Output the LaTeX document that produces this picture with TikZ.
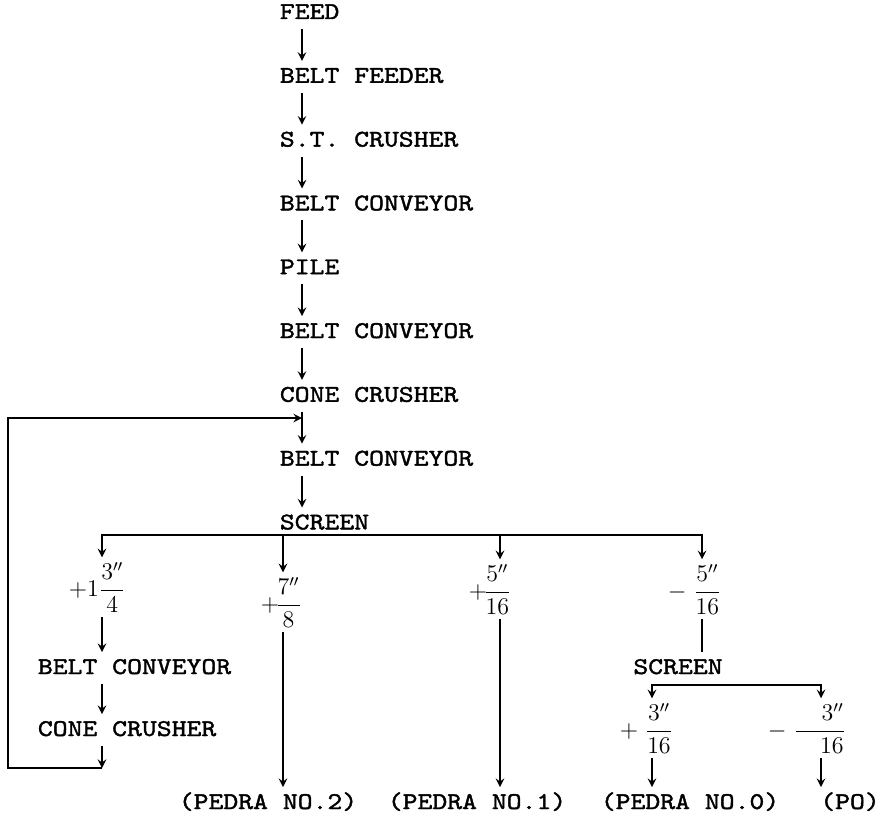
\documentclass[tikz,border=0pt]{standalone}
\usepackage{amsmath}
\usepackage{fontspec}
\setmainfont{lmmono10-regular.otf}[FakeStretch=1.18, FakeBold=1.6]
\usetikzlibrary{arrows,positioning}

\begin{document}
\begin{tikzpicture}[
    x=0.5pt, y=-0.5pt,
    font=\fontsize{12}{14}\selectfont,
    line width=0.9pt, >=stealth,
    unit/.style={inner sep=2pt, text height=8.5pt, text depth=2.5pt},
    frac/.style={inner sep=2pt}
]
\useasboundingbox (0,0) rectangle (887,824);

% columns of the arrows
\coordinate (mc) at (302,0);
\coordinate (c1) at (102,0);
\coordinate (c2) at (283,0);
\coordinate (c3) at (500,0);
\coordinate (c4) at (702,0);
\coordinate (c5) at (652,0);
\coordinate (c6) at (821,0);
\coordinate (split) at (0,535);
\coordinate (split2) at (0,685);
\coordinate (back) at (8,768);
\coordinate (join) at (302,418);

% main line
\node[unit, anchor=west] (feed) at (275,13) {FEED};
\node[unit, below=16pt of feed.south west, anchor=north west] (feeder) {BELT FEEDER};
\node[unit, below=16pt of feeder.south west, anchor=north west] (stc) {S.T. CRUSHER};
\node[unit, below=16pt of stc.south west, anchor=north west] (bc1) {BELT CONVEYOR};
\node[unit, below=16pt of bc1.south west, anchor=north west] (pile) {PILE};
\node[unit, below=16pt of pile.south west, anchor=north west] (bc2) {BELT CONVEYOR};
\node[unit, below=16pt of bc2.south west, anchor=north west] (cone1) {CONE CRUSHER};
\node[unit, below=16pt of cone1.south west, anchor=north west] (bc3) {BELT CONVEYOR};
\node[unit, below=16pt of bc3.south west, anchor=north west] (screen) {SCREEN};

\foreach \a/\b in {feed/feeder, feeder/stc, stc/bc1, bc1/pile, pile/bc2, bc2/cone1, cone1/bc3, bc3/screen}
    \draw[->] (\a.south -| mc) -- (\b.north -| mc);

% sizes off the screen
\node[frac, anchor=base west] (f1) at (64,596) {$+1\dfrac{3''}{4}$};
\node[frac, anchor=base west] (f2) at (256,611) {$+\!\dfrac{7''}{8}$};
\node[frac, anchor=base west] (f3) at (464,598) {$+\!\dfrac{5''}{16}$};
\node[frac, anchor=base west] (f4) at (663,598) {$-\;\dfrac{5''}{16}$};

\draw[<->] (c1 |- f1.north) |- (split -| c4) -- (c4 |- f4.north);
\draw[->] (split -| c2) -- (c2 |- f2.north);
\draw[->] (split -| c3) -- (c3 |- f3.north);

% oversize back to the crusher
\node[unit, anchor=west] (bc4) at (33,668) {BELT CONVEYOR};
\node[unit, anchor=west] (cone2) at (33,730) {CONE CRUSHER};
\draw[->] (f1.south -| c1) -- (bc4.north -| c1);
\draw[->] (bc4.south -| c1) -- (cone2.north -| c1);
\draw[->] (cone2.south -| c1) -- (back -| c1);
\draw[->] (back -| c1) -| (join -| back) -- (join);

% second screen
\node[unit] (screen2) at (678,668) {SCREEN};
\draw (f4.south -| c4) -- (screen2.north -| c4);
\node[frac, anchor=base west] (f5) at (615,737) {$+\;\dfrac{3''}{16}$};
\node[frac, anchor=base west] (f6) at (763,737) {$-\;\dfrac{\makebox[2em][r]{$3''$}}{\makebox[2em][r]{$16$}}$};
\draw[<->] (c5 |- f5.north) |- (split2 -| c6) -- (c6 |- f6.north);

% products
\node[unit] (p2) at (268,803) {(PEDRA NO.2)};
\node[unit] (p1) at (477,803) {(PEDRA NO.1)};
\node[unit] (p0) at (690,803) {(PEDRA NO.0)};
\node[unit] (po) at (850,803) {(PO)};

\draw[->] (f2.south -| c2) -- (p2.north -| c2);
\draw[->] (f3.south -| c3) -- (p1.north -| c3);
\draw[->] (f5.south -| c5) -- (p0.north -| c5);
\draw[->] (f6.south -| c6) -- (po.north -| c6);

\end{tikzpicture}
\end{document}
